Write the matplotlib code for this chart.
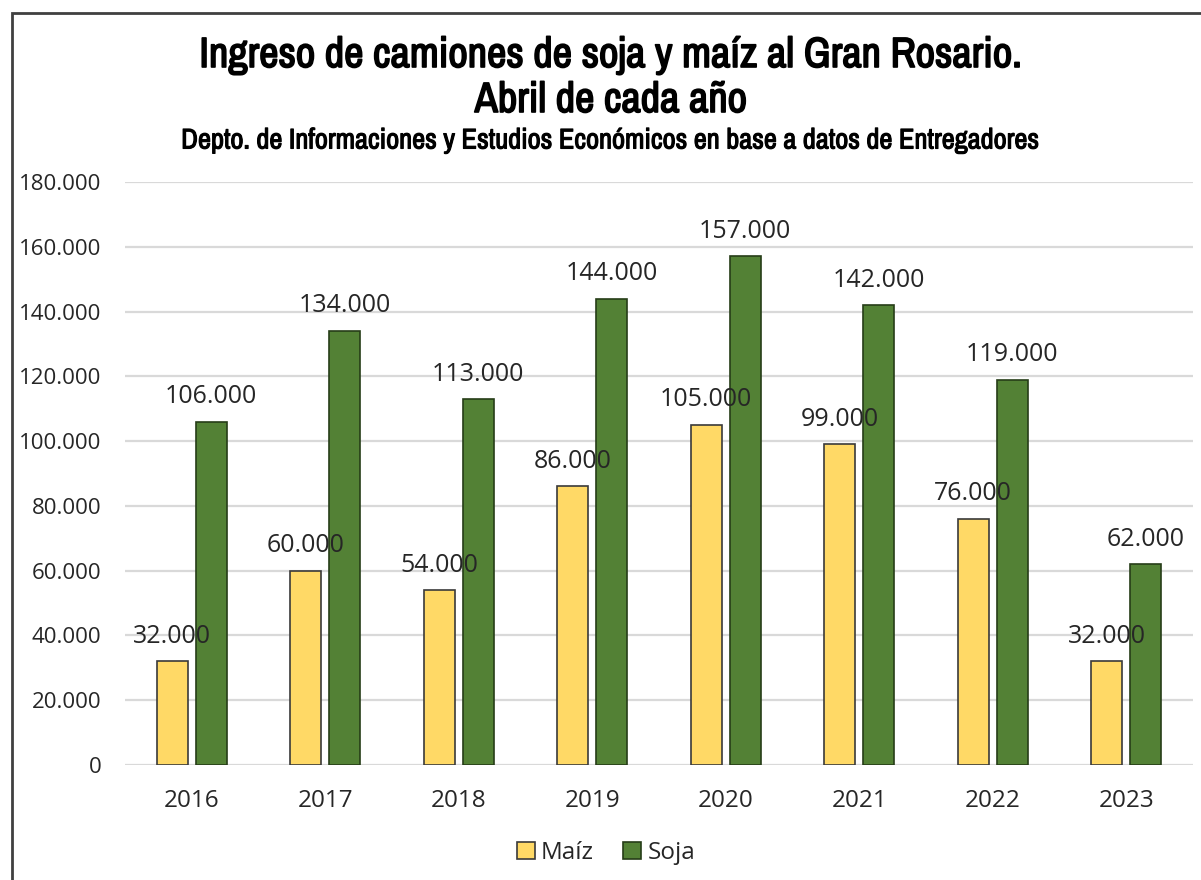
import matplotlib
matplotlib.use("Agg")
import matplotlib.pyplot as plt
import numpy as np
from matplotlib.patches import Rectangle
from matplotlib import font_manager
import matplotlib.patheffects as pe

years = ["2016", "2017", "2018", "2019", "2020", "2021", "2022", "2023"]
maiz = [32000, 60000, 54000, 86000, 105000, 99000, 76000, 32000]
soja = [106000, 134000, 113000, 144000, 157000, 142000, 119000, 62000]
yticks = [0, 20000, 40000, 60000, 80000, 100000, 120000, 140000, 160000, 180000]


def miles(v):
    return f"{v:,.0f}".replace(",", ".")


# narrow face for the titles (Liberation Sans Narrow when installed)
fl = font_manager.fontManager.ttflist
narrow = sorted({f.name for f in fl if "Narrow" in f.name or "Condensed" in f.name})

W, H = 1201, 880
fig = plt.figure(figsize=(W / 100, H / 100), dpi=100)
ax = fig.add_axes([125 / W, 1 - 765 / H, (1193 - 125) / W, (765 - 182) / H])

x = np.arange(len(years))
bw = 0.232
off = 0.146
b1 = ax.bar(x - off, maiz, bw, color="#FFD966", edgecolor="#3a3a3a", linewidth=1.2,
            label="Maíz", zorder=3)
b2 = ax.bar(x + off, soja, bw, color="#538135", edgecolor="#263d18", linewidth=1.2,
            label="Soja", zorder=3)

lab_font = {"family": "Open Sans", "size": 18, "color": "#262626"}
for xs, vals in ((x - off, maiz), (x + off, soja)):
    for xi, v in zip(xs, vals):
        ax.annotate(miles(v), (xi, v), xytext=(0, 18), textcoords="offset points",
                    ha="center", va="center", zorder=4, **lab_font)

ax.set_xlim(-0.5, len(years) - 0.5)
ax.set_ylim(0, 180000)
ax.set_yticks(yticks)
ax.set_yticklabels([miles(v) for v in yticks], fontfamily="Open Sans", fontsize=16,
                   color="#262626")
ax.set_xticks(x)
ax.set_xticklabels(years, fontfamily="Open Sans", fontsize=17.5, color="#262626")
ax.tick_params(axis="y", length=0, pad=17)
ax.tick_params(axis="x", length=0, pad=17)
ax.grid(axis="y", color="#d9d9d9", linewidth=1.6, zorder=0)
for s in ax.spines.values():
    s.set_visible(False)

# only the regular narrow cut exists, so thicken it a little with a stroke
tfont = dict(family=(narrow[:1] or []) + ["DejaVu Sans"], weight="bold", color="black")
fig.text(611 / W, 1 - 55 / H, "Ingreso de camiones de soja y maíz al Gran Rosario.",
         ha="center", va="center", fontsize=30.5,
         path_effects=[pe.withStroke(linewidth=1.2, foreground="black")], **tfont)
fig.text(611 / W, 1 - 100 / H, "Abril de cada año", ha="center", va="center",
         fontsize=30.5, path_effects=[pe.withStroke(linewidth=1.2, foreground="black")],
         **tfont)
fig.text(611 / W, 1 - 141 / H,
         "Depto. de Informaciones y Estudios Económicos en base a datos de Entregadores",
         ha="center", va="center", fontsize=20.5,
         path_effects=[pe.withStroke(linewidth=0.8, foreground="black")], **tfont)

leg = fig.legend(handles=[b1, b2], loc="center", bbox_to_anchor=(606 / W, 1 - 853 / H),
                 ncol=2, frameon=False, handlelength=0.75, handleheight=0.75,
                 handletextpad=0.25, columnspacing=1.2,
                 prop={"family": "Open Sans", "size": 17.5})
for t in leg.get_texts():
    t.set_color("#262626")

# outer frame of the chart object
fig.patches.append(Rectangle((12 / W, -0.05), 1.2, 1 - 13 / H + 0.05, transform=fig.transFigure,
                             fill=False, edgecolor="#404040", linewidth=2))

fig.savefig("out.png", dpi=100)
